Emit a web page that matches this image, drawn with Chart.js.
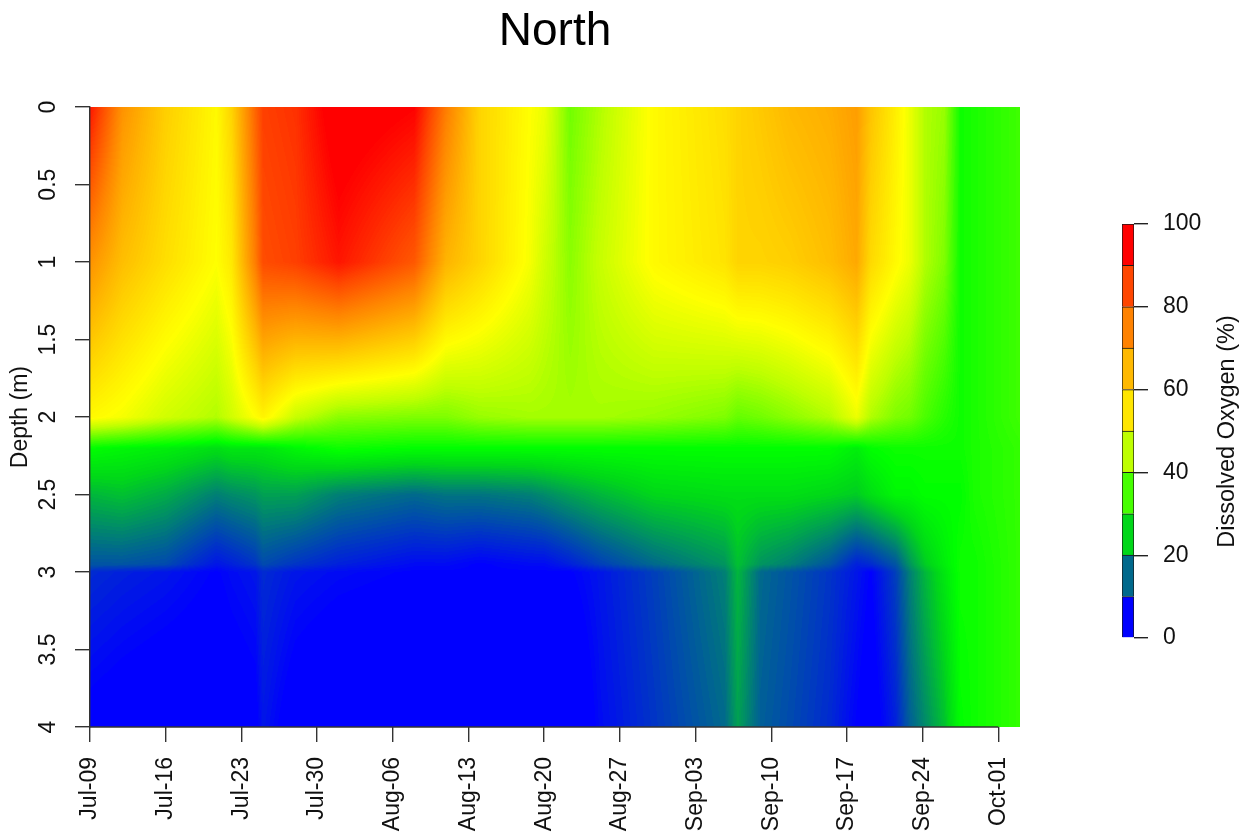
<!DOCTYPE html>
<html>
<head>
<meta charset="utf-8">
<style>
html,body{margin:0;padding:0;background:#fff;}
#wrap{position:relative;width:1251px;height:835px;overflow:hidden;}
canvas{position:absolute;left:0;top:0;display:block;}
</style>
<script src="https://cdn.jsdelivr.net/npm/chart.js@4/dist/chart.umd.min.js"></script>
</head>
<body>
<div id="wrap"><canvas id="main" width="1251" height="835"></canvas><canvas id="bar" width="1251" height="835"></canvas></div>
<script>
const chartTitle = 'North';
const xAxisDays = [0,7,14,21,28,35,42,49,56,63,70,77,84];
const xTickLabels = ['Jul-09','Jul-16','Jul-23','Jul-30','Aug-06','Aug-13','Aug-20','Aug-27','Sep-03','Sep-10','Sep-17','Sep-24','Oct-01'];
const yTickValues = [0,0.5,1,1.5,2,2.5,3,3.5,4];
const yTickLabels = ['0','0.5','1','1.5','2','2.5','3','3.5','4'];
const sampleDays = [0,3,7,11.7,13.1,15.3,16,19,23,30,32.9,36,40.7,42,44.4,47.2,52.2,58.7,59.9,62,64.7,68.4,70.9,72.2,74.5,75.8,77.2,79,80.5,81.8,86];
const depths = [0,1,2,2.2,2.5,2.95,3,4];
const oxygen0m   = [92,72,61,53,60,80,86,88,99,95,76,60,52,50,39,44,53,58,60,62,65,67,70,63,55,50,44,42,31,32,35];
const oxygen1m   = [72,64,58,52,56,76,84,86,92,82,66,60,51,47,41,46,53,57,60,60,61,64,68,59,53,50,44,40,31,32,35];
const oxygen2m   = [53,51,47,44,47,52,54,46,41,40,40,42,43,43,43,43,42,40,38,39,41,44,50,44,40,39,36,33,31,32,35];
const oxygen22m  = [30,29,28,26,27,27,27,29,31,30,30,30,30,30,30,30,30,30,30,30,30,30,28,30,31,31,31,31,31,32,34];
const oxygen25m  = [22,23,21,17,18,19,20,20,17,15,16,16,17,18,20,22,25,26,26,26,26,25,24,26,29,29,30,30,30,32,34];
const oxygen295m = [13,13,12,7,8,10,12,10,8,6,6,5,6,6,8,11,15,19,23,19,17,13,8,9,13,19,24,28,31,31,34];
const oxygen3m   = [9,8,7,5,6,7,9,7,6,5,5,5,5,5,5,7,11,17,22,15,13,10,7,5,11,17,22,27,31,31,34];
const oxygen4m   = [4,3,2,2,3,4,7,3,1,0,0,0,0,0,1,6,10,15,20,14,12,9,5,3,8,14,18,23,30,31,34];
const oxygenRows = [oxygen0m,oxygen1m,oxygen2m,oxygen22m,oxygen25m,oxygen295m,oxygen3m,oxygen4m];
const legendLevels = ['0-10','10-20','20-30','30-40','40-50','50-60','60-70','70-80','80-90','90-100'];
const legendColors = ['#0000ff','#00698c','#00d719','#46ff00','#beff00','#ffe600','#ffb900','#ff8200','#ff4600','#ff0000'];
const legendTicks = [0,20,40,60,80,100];
const legendTitle = 'Dissolved Oxygen (%)';
const rampValues = [0,5,15,25,30,38,45,52,65,75,85,95,100];
const rampColors = [[0,0,255],[0,0,255],[0,105,140],[0,215,25],[0,255,0],[100,255,0],[190,255,0],[255,255,0],[255,185,0],[255,130,0],[255,70,0],[255,0,0],[255,0,0]];

const textColor = '#111';
const fontFamily = '"Liberation Sans", Arial, sans-serif';

function rampColor(v){
  v = Math.max(0, Math.min(100, Math.round(v*2)/2));
  let i = 0;
  while (i < rampValues.length-2 && v > rampValues[i+1]) i++;
  const t = (v-rampValues[i])/(rampValues[i+1]-rampValues[i]);
  const a = rampColors[i], b = rampColors[i+1];
  return [a[0]+(b[0]-a[0])*t, a[1]+(b[1]-a[1])*t, a[2]+(b[2]-a[2])*t];
}
function bracket(arr, v){
  let i = 0;
  while (i < arr.length-2 && v > arr[i+1]) i++;
  return [i, Math.max(0, Math.min(1, (v-arr[i])/(arr[i+1]-arr[i])))];
}
function surfaceValue(day, depth){
  const [i,tx] = bracket(sampleDays, day);
  const [j,ty] = bracket(depths, depth);
  const r0 = oxygenRows[j], r1 = oxygenRows[j+1];
  const top = r0[i]+(r0[i+1]-r0[i])*tx;
  const bot = r1[i]+(r1[i+1]-r1[i])*tx;
  return top+(bot-top)*ty;
}
const surfacePlugin = {
  id:'surface',
  beforeDraw(chart){
    const {ctx, chartArea:a, scales:{x,y}} = chart;
    const L = Math.round(a.left), T = Math.round(a.top);
    const W = Math.round(a.right)-L, H = Math.round(a.bottom)-T;
    const img = ctx.createImageData(W,H);
    let p = 0;
    for (let py=0; py<H; py++){
      const depth = y.getValueForPixel(T+py+0.5);
      for (let px=0; px<W; px++){
        const c = rampColor(surfaceValue(x.getValueForPixel(L+px+0.5), depth));
        img.data[p++]=c[0]; img.data[p++]=c[1]; img.data[p++]=c[2]; img.data[p++]=255;
      }
    }
    ctx.putImageData(img,L,T);
  },
  afterDraw(chart){
    const {ctx, scales:{x,y}} = chart;
    ctx.save();
    ctx.strokeStyle='#333'; ctx.lineWidth=1.4;
    ctx.beginPath();
    ctx.moveTo(x.getPixelForValue(xAxisDays[0]), y.getPixelForValue(4));
    ctx.lineTo(x.getPixelForValue(xAxisDays[xAxisDays.length-1]), y.getPixelForValue(4));
    ctx.stroke();
    ctx.restore();
  }
};
const points = [];
sampleDays.forEach((d,i)=>depths.forEach((z,j)=>points.push({x:d,y:z,v:oxygenRows[j][i]})));

new Chart(document.getElementById('main'),{
  type:'scatter',
  data:{datasets:[{label:'Dissolved Oxygen (%)',data:points,pointRadius:0,showLine:false}]},
  plugins:[surfacePlugin],
  options:{
    responsive:false,animation:false,
    layout:{padding:{left:0,right:231,top:0,bottom:0},autoPadding:false},
    plugins:{
      legend:{display:false},tooltip:{enabled:false},
      title:{display:true,text:chartTitle,fullSize:false,color:'#000',
        font:{family:fontFamily,size:46,weight:'normal',lineHeight:1.2},
        padding:{top:5,bottom:47}}
    },
    scales:{
      x:{type:'linear',min:0,max:86,
        afterFit(s){s.height=108;},
        afterBuildTicks(s){s.ticks=xAxisDays.map(v=>({value:v}));},
        border:{display:false},
        grid:{drawOnChartArea:false,drawTicks:true,tickLength:15,color:'#333',lineWidth:1.4},
        ticks:{autoSkip:false,minRotation:90,maxRotation:90,padding:15,color:textColor,
          font:{family:fontFamily,size:23},
          callback:v=>xTickLabels[xAxisDays.indexOf(v)]}
      },
      y:{type:'linear',min:0,max:4,reverse:true,
        afterFit(s){s.width=90;},
        afterBuildTicks(s){s.ticks=yTickValues.map(v=>({value:v}));},
        border:{display:true,color:'#333',width:1.4},
        grid:{drawOnChartArea:false,drawTicks:true,tickLength:15,color:'#333',lineWidth:1.4},
        title:{display:true,text:'Depth (m)',color:textColor,font:{family:fontFamily,size:23},padding:{top:7,bottom:0}},
        ticks:{minRotation:90,maxRotation:90,crossAlign:'center',padding:10,color:textColor,
          font:{family:fontFamily,size:23},
          callback:v=>yTickLabels[yTickValues.indexOf(v)]}
      }
    }
  }
});

const legendTitlePlugin = {
  id:'legendTitle',
  afterDraw(chart){
    const {ctx, chartArea:a} = chart;
    ctx.save();
    ctx.translate(1228,(a.top+a.bottom)/2+0.5);
    ctx.rotate(-Math.PI/2);
    ctx.fillStyle=textColor;
    ctx.font='23.5px '+fontFamily;
    ctx.textAlign='center'; ctx.textBaseline='middle';
    ctx.fillText(legendTitle,0,0);
    ctx.restore();
  }
};
new Chart(document.getElementById('bar'),{
  type:'bar',
  data:{labels:['Dissolved Oxygen (%)'],
    datasets:legendLevels.map((l,i)=>({label:l,data:[10],backgroundColor:legendColors[i],borderColor:'#1a1a1a',borderWidth:1,barPercentage:1,categoryPercentage:1}))},
  plugins:[legendTitlePlugin],
  options:{
    responsive:false,animation:false,
    layout:{padding:{left:1122,right:0,top:224,bottom:197},autoPadding:false},
    plugins:{legend:{display:false},tooltip:{enabled:false},title:{display:false}},
    scales:{
      x:{stacked:true,display:false},
      y:{stacked:true,position:'right',min:0,max:100,
        afterFit(s){s.width=117;},
        afterBuildTicks(s){s.ticks=legendTicks.map(v=>({value:v}));},
        border:{display:false},
        grid:{drawOnChartArea:false,drawTicks:true,tickLength:14,color:'#222',lineWidth:1.4},
        ticks:{padding:15,color:textColor,font:{family:fontFamily,size:23}}
      }
    }
  }
});
</script>
</body>
</html>
